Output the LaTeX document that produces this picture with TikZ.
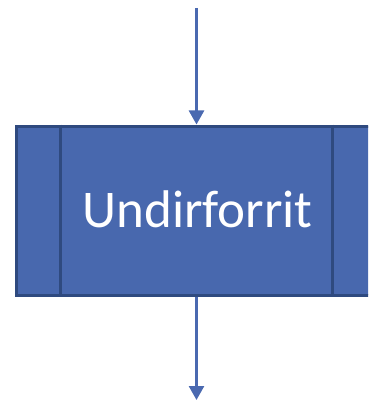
\documentclass[tikz,border=0pt]{standalone}
\usepackage{fontspec}
\setmainfont{Carlito}
\usetikzlibrary{arrows.meta}
\definecolor{boxfill}{HTML}{4868AE}
\definecolor{boxline}{HTML}{2F4A7F}
\definecolor{arrowc}{HTML}{4A69B0}
\tikzset{
  procbox/.style={draw=boxline, fill=boxfill, line width=3pt, minimum width=361pt, minimum height=169pt, inner sep=0pt},
  boxtext/.style={text=white, font=\fontsize{53}{60}\selectfont, inner sep=0pt},
  flow/.style={draw=arrowc, line width=2.6pt, -{Triangle[width=15pt,length=14pt]}}
}
\begin{document}
\begin{tikzpicture}[x=1pt,y=-1pt]
\useasboundingbox (0,0) rectangle (368,401);
\clip (0,0) rectangle (368,401);
\coordinate (top) at (196.5,8);
\coordinate (bot) at (196.5,400);
\node[procbox] (p) at (196.5,210.5) {};
\draw[boxline, line width=3pt] ([xshift=46pt]p.north west) -- ([xshift=46pt]p.south west);
\draw[boxline, line width=3pt] ([xshift=-46pt]p.north east) -- ([xshift=-46pt]p.south east);
\node[boxtext, anchor=base] (t) at (197.5,227) {Undirforrit};
\draw[flow] (top) -- (p.north);
\draw[flow] (p.south) -- (bot);
\end{tikzpicture}
\end{document}
